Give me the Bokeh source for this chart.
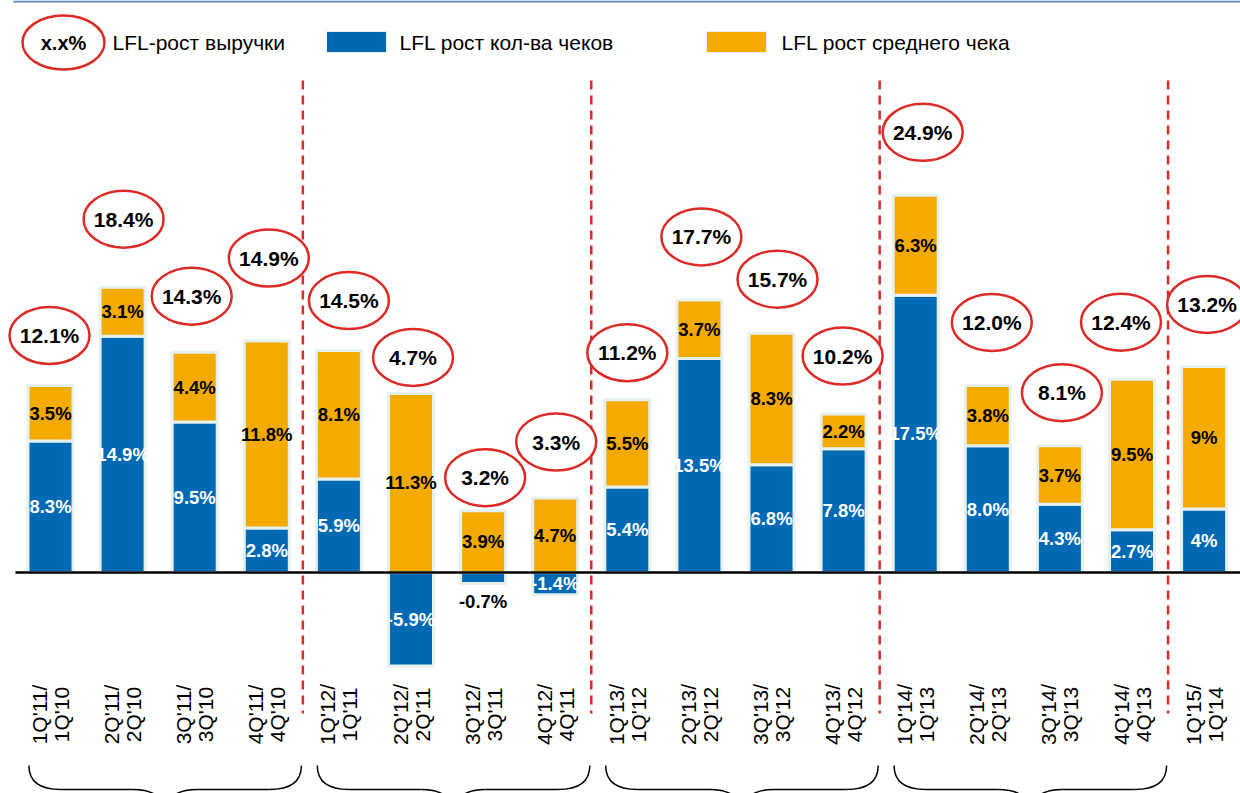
import math
from bokeh.plotting import figure
from bokeh.models import Range1d
from bokeh.core.properties import value
from bokeh.embed import file_html
from bokeh.resources import INLINE

# ---------------- data ----------------
period_top = ["1Q'11/", "2Q'11/", "3Q'11/", "4Q'11/",
              "1Q'12/", "2Q'12/", "3Q'12/", "4Q'12/",
              "1Q'13/", "2Q'13/", "3Q'13/", "4Q'13/",
              "1Q'14/", "2Q'14/", "3Q'14/", "4Q'14/",
              "1Q'15/"]
period_bottom = ["1Q'10", "2Q'10", "3Q'10", "4Q'10",
                 "1Q'11", "2Q'11", "3Q'11", "4Q'11",
                 "1Q'12", "2Q'12", "3Q'12", "4Q'12",
                 "1Q'13", "2Q'13", "3Q'13", "4Q'13",
                 "1Q'14"]
checks_growth = [8.3, 14.9, 9.5, 2.8, 5.9, -5.9, -0.7, -1.4, 5.4, 13.5, 6.8, 7.8, 17.5, 8.0, 4.3, 2.7, 4]
avg_check_growth = [3.5, 3.1, 4.4, 11.8, 8.1, 11.3, 3.9, 4.7, 5.5, 3.7, 8.3, 2.2, 6.3, 3.8, 3.7, 9.5, 9]
revenue_growth = [12.1, 18.4, 14.3, 14.9, 14.5, 4.7, 3.2, 3.3, 11.2, 17.7, 15.7, 10.2, 24.9, 12.0, 8.1, 12.4, 13.2]
label_decimals = [1] * 16 + [0]
group_sizes = [4, 4, 4, 4, 1]

legend_labels = ["LFL-рост выручки", "LFL рост кол-ва чеков", "LFL рост среднего чека"]

# badge placement (screen px): lift above bar top, horizontal nudge
badge_dy = [50, 68, 56, 83, 50, 36, 33, 56, 47, 63, 54, 58, 63, 63, 53, 57, 62]
badge_dx = [-1, 1, -3, 2, 10, 2, 2, 1, 0, 2, 6, -1, 7, 4, 2, -11, 3]

# ---------------- layout ----------------
W, H = 1240, 793
X0, DXP = 50.0, 72.1      # pixel of first bar centre, px per category
Y0, DYP = 572.0, 15.85    # pixel of zero line, px per percent


def xd(px):
    return (px - X0) / DXP


def yd(py):
    return (Y0 - py) / DYP


BLUE = "#0069B4"
ORANGE = "#F5AA00"
RED = "#DC2B27"
HALO = "#E4F1F0"
FONT = value("Liberation Sans")

p = figure(width=W, height=H, output_backend="svg", toolbar_location=None,
           x_axis_type=None, y_axis_type=None, min_border=0,
           x_range=Range1d(xd(0), xd(W)), y_range=Range1d(yd(H), yd(0)))
p.outline_line_color = None
p.background_fill_color = "white"
p.border_fill_color = "white"

n = len(checks_growth)
xs = list(range(n))

# top rule
p.segment(x0=[xd(13)], y0=[yd(1)], x1=[xd(W)], y1=[yd(1)], line_color="#5B83C6", line_width=2)

# dashed year separators
bounds = []
acc = 0
for g in group_sizes[:-1]:
    acc += g
    bounds.append(acc - 0.5)
p.segment(x0=bounds, y0=[yd(80)] * len(bounds), x1=bounds, y1=[yd(713)] * len(bounds),
          line_color=RED, line_width=2.5, line_dash="9 6")

# bars
bw = 45 / DXP
blue_top = checks_growth
orange_bottom = [max(b, 0) for b in checks_growth]
orange_top = [ob + o for ob, o in zip(orange_bottom, avg_check_growth)]
p.vbar(x=xs, bottom=0, top=blue_top, width=bw, fill_color=BLUE, line_color=HALO, line_width=3)
p.vbar(x=xs, bottom=orange_bottom, top=orange_top, width=bw, fill_color=ORANGE, line_color=HALO, line_width=3)

# zero line
p.segment(x0=[xd(15)], y0=[0], x1=[xd(W)], y1=[0], line_color="black", line_width=2.5)

# bar labels
bl_x, bl_y, bl_t, bl_c = [], [], [], []
for i, (b, d) in enumerate(zip(checks_growth, label_decimals)):
    txt = f"{b:.{d}f}%"
    if abs(b) < 1:
        bl_x.append(i); bl_y.append(b - 18 / DYP); bl_t.append(txt); bl_c.append("black")
    else:
        bl_x.append(i); bl_y.append(b / 2); bl_t.append(txt); bl_c.append("white")
p.text(x=bl_x, y=bl_y, text=bl_t, text_color=bl_c, text_font=FONT, text_font_style="bold",
       text_font_size="18.5px", text_align="center", text_baseline="middle")

ol_y = [ob + o / 2 for ob, o in zip(orange_bottom, avg_check_growth)]
ol_t = [f"{o:.{d}f}%" for o, d in zip(avg_check_growth, label_decimals)]
p.text(x=xs, y=ol_y, text=ol_t, text_color="black", text_font=FONT, text_font_style="bold",
       text_font_size="18.5px", text_align="center", text_baseline="middle")

# revenue growth badges
bx = [i + dx / DXP for i, dx in zip(xs, badge_dx)]
by = [t + dy / DYP for t, dy in zip(orange_top, badge_dy)]
p.ellipse(x=bx, y=by, width=80, height=57, width_units="screen", height_units="screen",
          fill_color="white", line_color=RED, line_width=2.5)
p.text(x=bx, y=by, text=[f"{r:.1f}%" for r in revenue_growth], text_color="black",
       text_font=FONT, text_font_style="bold", text_font_size="21px",
       text_align="center", text_baseline="middle")

# period labels (rotated)
ly = yd(714)
p.text(x=[i - 11 / DXP for i in xs], y=[ly] * n, text=period_top, angle=math.pi / 2,
       text_font=FONT, text_font_size="21px", text_color="black",
       text_align="center", text_baseline="middle")
p.text(x=[i + 11 / DXP for i in xs], y=[ly] * n, text=period_bottom, angle=math.pi / 2,
       text_font=FONT, text_font_size="21px", text_color="black",
       text_align="center", text_baseline="middle")

# year braces
yt, yh, yb = yd(765), yd(789), yd(815)
r = 32 / DXP
start = 0
for g in group_sizes[:-1]:
    left = start - 0.3
    right = start + g - 1 + 0.48
    mid = (left + right) / 2
    start += g
    p.quadratic(x0=[left, right, mid - r, mid + r], y0=[yt, yt, yh, yh],
                x1=[left + r, right - r, mid, mid], y1=[yh, yh, yb, yb],
                cx=[left, right, mid, mid], cy=[yh, yh, yh, yh],
                line_color="black", line_width=1.5)
    p.segment(x0=[left + r, mid + r], y0=[yh, yh], x1=[mid - r, right - r], y1=[yh, yh],
              line_color="black", line_width=1.5)

# legend
p.ellipse(x=[xd(63)], y=[yd(42)], width=82, height=54, width_units="screen", height_units="screen",
          fill_color="white", line_color=RED, line_width=2.5)
p.text(x=[xd(63)], y=[yd(42)], text=["x.x%"], text_font=FONT, text_font_style="bold",
       text_font_size="20px", text_align="center", text_baseline="middle")
p.quad(left=[xd(326), xd(706)], right=[xd(386), xd(766)], top=[yd(31)] * 2, bottom=[yd(52)] * 2,
       fill_color=[BLUE, ORANGE], line_color=HALO, line_width=1)
p.text(x=[xd(112), xd(399), xd(781)], y=[yd(42)] * 3, text=legend_labels,
       text_font=FONT, text_font_size="21px", text_color="black",
       text_align="left", text_baseline="middle")

open("out.html", "w").write(file_html(p, INLINE))
